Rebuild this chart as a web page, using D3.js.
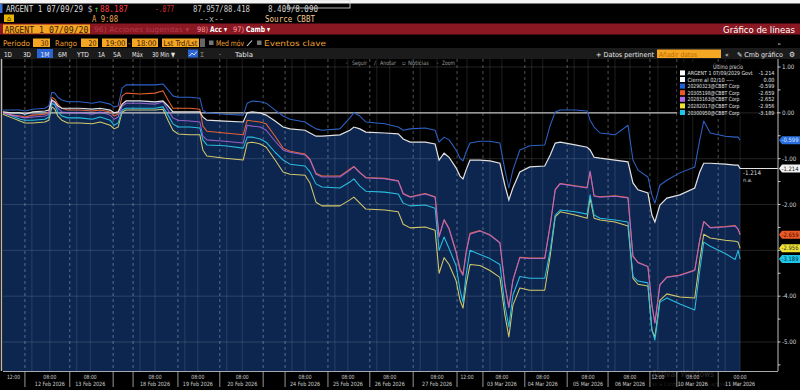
<!DOCTYPE html>
<html><head><meta charset="utf-8">
<script src="https://cdn.jsdelivr.net/npm/d3@7/dist/d3.min.js"></script>
<style>
html,body{margin:0;padding:0;background:#000;overflow:hidden}
svg{display:block}
text{font-family:"Liberation Sans Narrow","DejaVu Sans Condensed","Liberation Sans",sans-serif}
.mono{font-family:"DejaVu Sans Mono","Liberation Mono",monospace}
</style></head>
<body>
<svg id="c" width="800" height="390"></svg>
<script>
// ---------- DATA ----------
// time index: 30-min trading bars on Bloomberg's compressed session axis
const bars = [0,1.8,3.4,4.4,6.0,8.4,9.2,9.8,10.4,11.0,11.8,13.0,15.4,17.9,19.5,21.5,22.3,23.1,23.9,24.7,27.5,30.5,32.1,33.1,34.1,35.1,37.5,39.5,40.1,40.9,44.5,48.2,49.0,50.0,51.6,52.8,54.6,56.2,57.6,60.6,61.6,62.8,64.0,67.6,69.6,70.4,71.6,72.8,76.6,79.3,80.3,81.7,84.7,86.7,87.5,88.5,89.5,90.9,91.7,92.3,92.9,93.7,95.7,97.7,99.7,100.7,101.5,102.3,103.7,105.7,108.7,109.8,110.8,111.8,114.8,117.2,117.8,118.6,119.8,122.8,125.4,126.4,127.4,129.4,130.2,130.8,131.8,133.2,135.8,138.8,139.8,140.6,141.9,144.9,146.9,147.5,147.9];
const argent = [0.02,0.00,0.00,-0.03,0.02,0.04,0.06,0.28,0.24,0.15,0.10,0.10,0.10,0.08,0.10,0.06,0.00,0.02,0.19,0.26,0.26,0.24,0.26,0.15,0.02,0.02,0.02,0.02,-0.09,-0.16,-0.18,-0.20,0.00,0.02,0.00,-0.05,-0.18,-0.31,-0.35,-0.38,-0.44,-0.51,-0.51,-0.48,-0.38,-0.31,-0.35,-0.42,-0.44,-0.46,-0.57,-0.64,-0.64,-0.68,-1.03,-0.88,-0.97,-1.20,-1.38,-1.44,-1.25,-1.03,-1.03,-1.05,-1.10,-1.58,-1.90,-1.64,-1.29,-1.18,-1.16,-0.92,-0.66,-0.64,-0.70,-0.75,-0.81,-0.97,-0.99,-1.03,-1.07,-1.53,-1.68,-1.75,-2.23,-2.38,-2.01,-1.86,-1.79,-1.64,-1.29,-1.10,-1.10,-1.12,-1.14,-1.14,-1.214];
const s20290323 = [0.06,0.06,0.06,0.04,0.08,0.10,0.15,0.45,0.43,0.34,0.28,0.24,0.24,0.21,0.24,0.19,0.13,0.15,0.54,0.61,0.61,0.61,0.63,0.50,0.37,0.34,0.34,0.32,0.06,0.00,-0.03,-0.05,0.21,0.26,0.24,0.21,0.06,-0.07,-0.14,-0.20,-0.27,-0.35,-0.38,-0.35,-0.11,0.00,-0.07,-0.20,-0.24,-0.31,-0.38,-0.35,-0.33,-0.38,-0.64,-0.53,-0.59,-0.81,-0.99,-1.05,-0.86,-0.66,-0.62,-0.62,-0.66,-1.25,-1.64,-1.25,-0.81,-0.72,-0.70,-0.27,0.02,0.06,0.06,0.04,-0.16,-0.31,-0.44,-0.48,-0.27,-1.03,-1.25,-1.40,-1.79,-1.97,-1.58,-1.47,-1.31,-1.18,-0.59,-0.18,-0.44,-0.51,-0.53,-0.53,-0.599];
const s20305198 = [0.00,-0.05,-0.07,-0.09,-0.05,-0.03,0.02,0.34,0.30,0.19,0.10,0.06,0.06,0.04,0.06,0.02,-0.07,-0.03,0.37,0.43,0.41,0.43,0.48,0.28,0.10,0.10,0.10,0.08,-0.29,-0.40,-0.44,-0.48,-0.16,-0.18,-0.20,-0.24,-0.51,-0.77,-0.84,-0.90,-1.01,-1.32,-1.38,-1.38,-1.23,-1.17,-1.30,-1.41,-1.43,-1.48,-1.76,-1.83,-1.76,-1.83,-2.69,-2.33,-2.52,-3.02,-3.40,-3.52,-3.05,-2.63,-2.57,-2.66,-2.83,-3.75,-4.24,-3.65,-3.15,-3.17,-3.17,-2.44,-1.67,-1.54,-1.59,-1.63,-1.29,-1.81,-1.83,-1.81,-1.85,-3.12,-3.26,-3.35,-4.19,-4.58,-3.75,-3.58,-3.54,-3.43,-2.77,-2.37,-2.50,-2.48,-2.46,-2.54,-2.659];
const s20283163 = [0.00,-0.05,-0.09,-0.11,-0.09,-0.07,-0.03,0.26,0.21,0.10,0.02,0.00,0.00,-0.03,0.02,-0.05,-0.14,-0.09,0.15,0.21,0.21,0.19,0.24,0.06,-0.11,-0.16,-0.18,-0.20,-0.51,-0.59,-0.62,-0.66,-0.27,-0.29,-0.31,-0.38,-0.62,-0.81,-0.86,-0.92,-1.03,-1.34,-1.40,-1.40,-1.25,-1.18,-1.31,-1.42,-1.44,-1.49,-1.77,-1.84,-1.77,-1.84,-2.71,-2.34,-2.54,-3.05,-3.44,-3.55,-3.07,-2.65,-2.58,-2.67,-2.84,-3.76,-4.25,-3.66,-3.16,-3.18,-3.18,-2.45,-1.68,-1.55,-1.60,-1.64,-1.27,-1.82,-1.84,-1.82,-1.86,-3.14,-3.27,-3.36,-4.20,-4.59,-3.76,-3.59,-3.55,-3.44,-2.78,-2.38,-2.51,-2.49,-2.47,-2.54,-2.652];
const s20282017 = [-0.03,-0.11,-0.18,-0.22,-0.22,-0.20,-0.16,0.13,0.08,-0.07,-0.16,-0.22,-0.22,-0.24,-0.20,-0.27,-0.35,-0.31,0.02,0.06,0.06,0.06,0.08,-0.16,-0.38,-0.46,-0.48,-0.48,-0.81,-0.94,-0.99,-1.03,-0.66,-0.64,-0.68,-0.75,-1.03,-1.29,-1.34,-1.36,-1.53,-1.95,-2.03,-2.03,-1.90,-1.84,-1.97,-2.10,-2.12,-2.16,-2.43,-2.51,-2.49,-2.56,-3.50,-3.16,-3.31,-3.66,-4.09,-4.26,-3.76,-3.31,-3.33,-3.44,-3.59,-4.41,-4.89,-4.20,-3.82,-3.87,-3.87,-3.11,-2.27,-2.16,-2.23,-2.30,-1.86,-2.30,-2.34,-2.38,-2.47,-3.61,-3.74,-3.78,-4.74,-4.89,-4.09,-3.95,-4.02,-4.04,-3.22,-2.65,-2.73,-2.78,-2.80,-2.82,-2.956];
const s20300950 = [0.00,-0.07,-0.14,-0.16,-0.16,-0.14,-0.09,0.21,0.17,0.02,-0.07,-0.11,-0.11,-0.14,-0.09,-0.16,-0.27,-0.22,0.06,0.10,0.10,0.10,0.13,-0.05,-0.24,-0.31,-0.31,-0.33,-0.59,-0.70,-0.72,-0.77,-0.53,-0.53,-0.57,-0.64,-0.86,-1.03,-1.12,-1.16,-1.29,-1.55,-1.62,-1.64,-1.51,-1.44,-1.60,-1.71,-1.73,-1.77,-1.97,-2.03,-2.01,-2.08,-3.00,-2.71,-2.96,-3.33,-3.87,-4.13,-3.55,-3.00,-3.09,-3.18,-3.31,-4.20,-4.67,-3.98,-3.57,-3.61,-3.61,-3.00,-2.23,-2.12,-2.16,-2.21,-1.79,-2.23,-2.30,-2.34,-2.38,-3.57,-3.67,-3.71,-4.74,-4.96,-4.13,-4.04,-4.17,-4.30,-3.44,-2.82,-2.91,-3.07,-3.20,-3.00,-3.189];
const closeRef = 0.00; // Cierre al 02/10

const seriesNames = ["ARGENT 1 07/09/2029 Govt","Cierre al 02/10  ----","20290323@CBBT Corp","20305198@CBBT Corp","20283163@CBBT Corp","20282017@CBBT Corp","20300950@CBBT Corp"];
const lastValues = [-1.214,0.00,-0.599,-2.659,-2.652,-2.956,-3.189];

const yTicks = [1,0,-1,-2,-3,-4,-5];
const tickBars = [2.0,9.4,17.5,30.5,39.1,48.0,60.6,69.2,77.6,87.1,93.1,100.1,108.3,117.4,125.8,131.4,138.4,147.9];
const tickTime = ["12:00","08:00","08:00","08:00","08:00","08:00","08:00","08:00","08:00","08:00","12:00","08:00","08:00","08:00","08:00","12:00","08:00","00:00"];
const tickDate = ["","12 Feb 2026","13 Feb 2026","18 Feb 2026","19 Feb 2026","20 Feb 2026","24 Feb 2026","25 Feb 2026","26 Feb 2026","27 Feb 2026","","03 Mar 2026","04 Mar 2026","05 Mar 2026","06 Mar 2026","","10 Mar 2026","11 Mar 2026"];
const sessionBars = [4.4,13.4,22.1,26.1,35.1,43.5,52.2,56.6,65.2,73.6,82.3,91.1,96.3,104.7,113.2,121.4,129.8,135.2,143.5];

// ---------- DRAW ----------
const svg = d3.select("#c");
const W = 800, H = 390;
const P = {l:3, r:778, t:59, b:371};
const x = d3.scaleLinear().domain([0,155.5]).range([P.l,P.r]);
const y = d3.scaleLinear().domain([-5,1]).range([342,67]);
const fmt3 = v => d3.format(".3f")(v).replace("−","-");

function txt(g, xx, yy, s, fill, size, len, cls, anchor){
  const t = g.append("text").attr("x",xx).attr("y",yy).attr("fill",fill).style("font-size",size+"px").text(s);
  if (cls) t.attr("class",cls);
  if (anchor) t.attr("text-anchor",anchor);
  if (len) t.attr("textLength",len).attr("lengthAdjust","spacingAndGlyphs");
  return t;
}

svg.append("rect").attr("width",W).attr("height",H).attr("fill","#000");
svg.append("rect").attr("x",0).attr("y",0).attr("width",W).attr("height",3.5).attr("fill","#f4f4f4");
svg.append("rect").attr("x",288).attr("y",0).attr("width",62).attr("height",8).attr("fill","none").attr("stroke","#ddd").attr("stroke-width",0.8);

// ---- header row 1
const hd = svg.append("g");
hd.append("rect").attr("x",0).attr("y",4).attr("width",2.5).attr("height",9).attr("fill","#3b73d9");
txt(hd,6,12,"ARGENT 1 07/09/29","#dcdcdc",8.4,77,"mono");
txt(hd,87.5,12,"$","#bbb",8,5,"mono");
txt(hd,94,12,"↑","#3fcf5a",8.4,null,"mono");
txt(hd,100,12,"88.187","#ff3c44",8.4,28,"mono");
txt(hd,155,12,"-.077","#d53030",8.4,19,"mono");
txt(hd,193,12,"87.957/88.418","#cfcfcf",8.4,57,"mono");
txt(hd,268,12,"8.409/8.090","#cfcfcf",8.4,50,"mono");
// row 2
hd.append("rect").attr("x",4).attr("y",14.5).attr("width",10).attr("height",7.5).attr("fill","#e8b400");
txt(hd,9,21,"⌂","#111",7,null,null,"middle");
txt(hd,92,21.5,"A 9:08","#f0a850",8.2,26,"mono");
txt(hd,199,21.5,"--x--","#aaa",8.2,25,"mono");
txt(hd,265,21.5,"Source CBBT","#f0c890",8.2,50,"mono");
// row 3 red bar
hd.append("rect").attr("x",0).attr("y",23.5).attr("width",W).attr("height",11).attr("fill","#8a1823");
hd.append("rect").attr("x",3).attr("y",24.5).attr("width",87).attr("height",9).attr("fill","#f5a623");
txt(hd,4.5,32.5,"ARGENT 1 07/09/20","#3a1a00",8.4,84,"mono");
txt(hd,94,32,"96) Acciones sugeridas ▾","#b23a4a",7.4,95);
txt(hd,197,32,"98)","#ff9aa0",7.4,11);
txt(hd,210,32,"Acc ▾","#fff",7.8,17).style("font-weight","bold");
txt(hd,233,32,"97)","#ff9aa0",7.4,11);
txt(hd,246,32,"Camb ▾","#fff",7.8,24).style("font-weight","bold");
txt(hd,795,32.5,"Gráfico de líneas","#fff",8.6,72,null,"end");
// row 4
const r4 = svg.append("g");
txt(r4,3,46,"Periodo","#f0a030",7.8,27);
[[33,17,"30",8],[81,17,"20",8],[102,25,"19:00",20],[132,26,"18:00",20],[162,37,"Lst Trd/Lst",34]].forEach(b=>{
  r4.append("rect").attr("x",b[0]).attr("y",38.5).attr("width",b[1]).attr("height",8.5).attr("fill","#f5a623");
  txt(r4,b[0]+b[1]-1.5,46,b[2],"#3a1a00",7.8,b[3],null,"end");
});
txt(r4,55,46,"Rango","#f0a030",7.8,22);
txt(r4,128,46,"-","#f0a030",7.8);
r4.append("rect").attr("x",200).attr("y",38.5).attr("width",5).attr("height",8.5).attr("fill","#666");
r4.append("rect").attr("x",209).attr("y",40.5).attr("width",4.5).attr("height",4.5).attr("fill","#777");
txt(r4,216,46,"Med móv","#f0a030",7.8,28);
r4.append("path").attr("d","M247,46 L252,40.5").attr("stroke","#ccc").attr("stroke-width",1.1);
r4.append("rect").attr("x",257).attr("y",40.5).attr("width",4.5).attr("height",4.5).attr("fill","#777");
txt(r4,264,46,"Eventos clave","#f0a030",7.8,62);
// row 5 toolbar
svg.append("rect").attr("x",0).attr("y",48).attr("width",W).attr("height",11).attr("fill","#1b1b1b");
svg.append("rect").attr("x",37).attr("y",49).attr("width",16).attr("height",9).attr("fill","#2a63d4");
svg.append("rect").attr("x",188).attr("y",49.5).attr("width",10).attr("height",8).attr("fill","#2a63d4");
svg.append("path").attr("d","M189.5,56 L192,53 L194,55 L197,51.5").attr("fill","none").attr("stroke","#fff").attr("stroke-width",0.8);
svg.append("rect").attr("x",657).attr("y",49.5).attr("width",64).attr("height",8.5).attr("fill","#f5a623");
const r5 = svg.append("g");
[[4,"1D",8],[23,"3D",8],[40.5,"1M",9],[58,"6M",9],[77,"YTD",12],[98,"1A",7],[113,"5A",8],[132,"Máx",11],[152,"30 Min ▼",23],[200,"⌶",null],[219,"·",null],[235,"Tabla",18]].forEach(t=>{
  txt(r5,t[0],56.5,t[1],"#e6e6e6",6.8,t[2]);
});
txt(r5,596,56.5,"+ Datos pertinent","#e6e6e6",6.8,58);
txt(r5,659,56.5,"Añadir datos","#c26a00",6.8,38);
txt(r5,725,56.5,"«","#e6e6e6",6.8);
txt(r5,737,56.5,"✎ Cmb gráfico","#e6e6e6",6.8,46);
txt(r5,789,56.8,"⚙","#e6e6e6",7.5);

// ---- plot
const plot = svg.append("g");
svg.append("clipPath").attr("id","clip").append("rect").attr("x",P.l).attr("y",P.t).attr("width",P.r-P.l).attr("height",P.b-P.t);
const pd = bars.map((b,i)=>({b,v:argent[i]}));
plot.append("path").datum(pd).attr("clip-path","url(#clip)")
  .attr("d",d3.area().x(d=>x(d.b)).y0(P.b).y1(d=>y(d.v)))
  .attr("fill","#0d2650");

// grid
const grid = plot.append("g").attr("clip-path","url(#clip)");
yTicks.filter(v=>v!==0).forEach(v=>{
  grid.append("line").attr("x1",P.l).attr("x2",P.r).attr("y1",y(v)).attr("y2",y(v)).attr("stroke","rgba(255,255,255,0.17)").attr("stroke-width",0.8);
});
sessionBars.forEach(b=>{
  grid.append("line").attr("x1",x(b)).attr("x2",x(b)).attr("y1",P.t).attr("y2",P.b).attr("stroke","rgba(255,255,255,0.4)").attr("stroke-width",0.8).attr("stroke-dasharray","3,3");
});
sessionBars.forEach((b,i)=>{
  const nb = i+1<sessionBars.length ? sessionBars[i+1] : 155.5;
  if (nb-b > 6) grid.append("line").attr("x1",x(b+1.4)).attr("x2",x(b+1.4)).attr("y1",P.t).attr("y2",P.b).attr("stroke","rgba(255,255,255,0.15)").attr("stroke-width",0.8);
});
tickBars.slice(1).forEach(b=>{
  grid.append("line").attr("x1",x(b)).attr("x2",x(b)).attr("y1",P.t).attr("y2",P.b).attr("stroke","rgba(255,255,255,0.15)").attr("stroke-width",0.8);
});

// zero reference line
plot.append("line").attr("x1",P.l).attr("x2",P.r).attr("y1",y(closeRef)).attr("y2",y(closeRef)).attr("stroke","#c9c9c9").attr("stroke-width",1.2);

const line = d3.line().x(d=>x(d.b)).y(d=>y(d.v));
const sers = [
  {v:s20282017,c:"#d3c96a",o:1},
  {v:s20300950,c:"#29bde0",o:1},
  {v:s20305198,c:"#e8622e",o:1},
  {v:s20283163,c:"#b46ee6",o:0.8},
  {v:s20290323,c:"#2d62c6",o:1},
];
sers.forEach(s=>{
  plot.append("path").datum(bars.map((b,i)=>({b,v:s.v[i]}))).attr("d",line)
    .attr("fill","none").attr("stroke",s.c).attr("stroke-width",1.05).attr("stroke-opacity",s.o).attr("stroke-linejoin","round");
});
const wd = bars.map((b,i)=>({b,v:argent[i]}));
wd.push({b:155.5,v:argent[argent.length-1]});
plot.append("path").datum(wd).attr("d",line).attr("fill","none").attr("stroke","#e2e2e2").attr("stroke-width",1.2);

// end annotation
txt(svg,743,175,fmt3(lastValues[0]),"#ddd",6.2);
txt(svg,743,182,"n.a.","#ccc",5.6);

// left border
svg.append("line").attr("x1",1.5).attr("x2",1.5).attr("y1",P.t).attr("y2",P.b).attr("stroke","#bbb").attr("stroke-width",1.5);

// chart toolbar
const tb = svg.append("g");
[[345,"◦",null],[352,"Seguir",15],[374,"∕",null],[380,"Anotar",16],[402,"▫",null],[408,"Noticias",21],[436,"◦",null],[442,"Zoom",13]].forEach(t=>{
  txt(tb,t[0],64.5,t[1],"#9a9a9a",6,t[2]);
});

// legend
const lg = svg.append("g");
lg.append("rect").attr("x",677).attr("y",62).attr("width",100).attr("height",54).attr("fill","#000").attr("fill-opacity",0.85);
txt(lg,728,68.5,"Último precio","#d8d8d8",6.2,30,null,"middle");
const lcol = ["#ffffff","#ffffff","#1f62d6","#ee5a25","#b56ce8","#f0e234","#1ec7ea"];
const llen = [65,46,52,52,52,52,52];
seriesNames.forEach((n,i)=>{
  const yy = 75 + i*6.6;
  lg.append("rect").attr("x",680).attr("y",yy-4.6).attr("width",5).attr("height",5).attr("fill",lcol[i]);
  txt(lg,687.5,yy,n,"#e0e0e0",5.6,llen[i]);
  txt(lg,774.5,yy,i===1?"0.00":fmt3(lastValues[i]),"#e0e0e0",5.6,i===1?11:16,null,"end");
});

// right axis
const ax = svg.append("g");
ax.append("line").attr("x1",P.r).attr("x2",P.r).attr("y1",P.t).attr("y2",P.b).attr("stroke","#bdbdbd").attr("stroke-width",1);
d3.range(-5.5,1.51,0.5).forEach(v=>{
  ax.append("line").attr("x1",P.r).attr("x2",P.r+2.5).attr("y1",y(v)).attr("y2",y(v)).attr("stroke","#ddd").attr("stroke-width",0.9);
});
yTicks.filter(v=>v!==-3).forEach(v=>{
  txt(ax,782,y(v)+2.2,d3.format(".2f")(v).replace("−","-"),"#d6d6d6",6.2);
});
const badges = [[0,"#f2f2f2","#111"],[2,"#2a6ee0","#cfe0ff"],[3,"#ee5a25","#3a0a00"],[5,"#f0e234","#333"],[6,"#1ec7ea","#003040"]];
badges.forEach(b=>{
  const yy = y(lastValues[b[0]]);
  ax.append("path").attr("d",`M${P.r+1},${yy} L${P.r+4},${yy-4} L800,${yy-4} L800,${yy+4} L${P.r+4},${yy+4} Z`).attr("fill",b[1]);
  txt(ax,790,yy+2.1,fmt3(lastValues[b[0]]),b[2],6,17,null,"middle");
});

// bottom axis
const bx = svg.append("g");
bx.append("rect").attr("x",0).attr("y",P.b).attr("width",W).attr("height",H-P.b).attr("fill","#000");
bx.append("line").attr("x1",P.l).attr("x2",P.r).attr("y1",P.b+0.5).attr("y2",P.b+0.5).attr("stroke","#aaa").attr("stroke-width",1);
sessionBars.forEach(b=>{
  bx.append("line").attr("x1",x(b)).attr("x2",x(b)).attr("y1",P.b).attr("y2",P.b+16).attr("stroke","#bbb").attr("stroke-width",0.8);
});
// OS watermark (faint, behind labels as in the screenshot)
txt(bx,652,377,"Activar Windows","rgba(255,255,255,0.2)",8.5,62);
txt(bx,652,385.5,"Ve a Configuración para activar Windows.","rgba(255,255,255,0.14)",5.5,100);
tickBars.forEach((b,i)=>{
  txt(bx,i===0?7:x(b),P.b+7.5,tickTime[i],"#cfcfcf",5.8,13,null,i===0?"start":"middle");
  if (tickDate[i]) txt(bx,x(b),P.b+14.5,tickDate[i],"#cfcfcf",5.8,30,null,"middle");
});
</script>
</body></html>
